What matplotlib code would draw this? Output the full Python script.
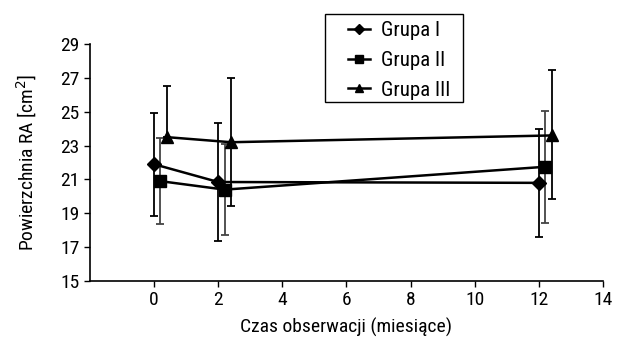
import matplotlib
matplotlib.use("Agg")
import matplotlib.pyplot as plt
from matplotlib import font_manager
from matplotlib.patches import Rectangle

fams = set(f.name for f in font_manager.fontManager.ttflist)
candidates = ['Liberation Sans Narrow', 'Arial Narrow', 'Roboto Condensed', 'Archivo Narrow',
              'PT Sans Narrow', 'Sofia Sans Semi Condensed', 'Open Sans Condensed', 'DejaVu Sans']
narrow = next(c for c in candidates if c in fams)
plt.rcParams['font.family'] = [narrow, 'DejaVu Sans']

months = [0, 2, 12]
g1_x = [0, 2, 12]
g1_y = [21.9, 20.85, 20.8]
g1_err = [3.05, 3.5, 3.2]
g2_x = [0.2, 2.2, 12.2]
g2_y = [20.9, 20.4, 21.75]
g2_err = [2.55, 2.68, 3.3]
g3_x = [0.4, 2.4, 12.4]
g3_y = [23.5, 23.2, 23.6]
g3_err_low = [0.0, 3.77, 3.75]
g3_err_high = [3.0, 3.77, 3.85]
labels = ['Grupa I', 'Grupa II', 'Grupa III']
xticks = [0, 2, 4, 6, 8, 10, 12, 14]
yticks = [15, 17, 19, 21, 23, 25, 27, 29]

W, H = 629, 344
fig = plt.figure(figsize=(W / 100, H / 100), dpi=100)
ax = fig.add_axes([0.143, 0.183, 0.8157, 0.689])

common = dict(lw=1.8, capsize=3, elinewidth=1.3, capthick=1.3)
h1 = ax.errorbar(g1_x, g1_y, yerr=g1_err, color='black', marker='D', ms=7,
                 ecolor='black', label=labels[0], **common)
h2 = ax.errorbar(g2_x, g2_y, yerr=g2_err, color='black', marker='s', ms=9,
                 ecolor='#444444', label=labels[1], **common)
h3 = ax.errorbar(g3_x, g3_y, yerr=[g3_err_low, g3_err_high], color='black', marker='^', ms=9,
                 ecolor='black', label=labels[2], **common)

ax.set_xlim(-2, 14)
ax.set_ylim(15, 29)
ax.set_xticks(xticks)
ax.set_yticks(yticks)
ax.tick_params(axis='both', labelsize=14, length=4, width=1, direction='out')
ax.spines['top'].set_visible(False)
ax.spines['right'].set_visible(False)
ax.spines['left'].set_linewidth(1.2)
ax.spines['bottom'].set_linewidth(1.2)
ax.set_xlabel('Czas obserwacji (miesiące)', fontsize=14, labelpad=6)
ax.set_ylabel('Powierzchnia RA [cm$^2$]', fontsize=14, labelpad=15)

# legend frame drawn separately (asymmetric padding as in reference)
fig.patches.append(Rectangle((325 / W, 1 - 102 / H), 138 / W, 88 / H, transform=fig.transFigure,
                             fill=False, edgecolor='black', lw=1.0))
leg = fig.legend(handles=[h1[0], h2[0], h3[0]], labels=labels, loc='upper left',
                 bbox_to_anchor=(348 / W, 1 - 21 / H), fontsize=15, frameon=False,
                 handlelength=1.05, handletextpad=0.55, borderpad=0,
                 labelspacing=0.52, markerscale=0.7, borderaxespad=0)

fig.savefig('out.png', dpi=100)
